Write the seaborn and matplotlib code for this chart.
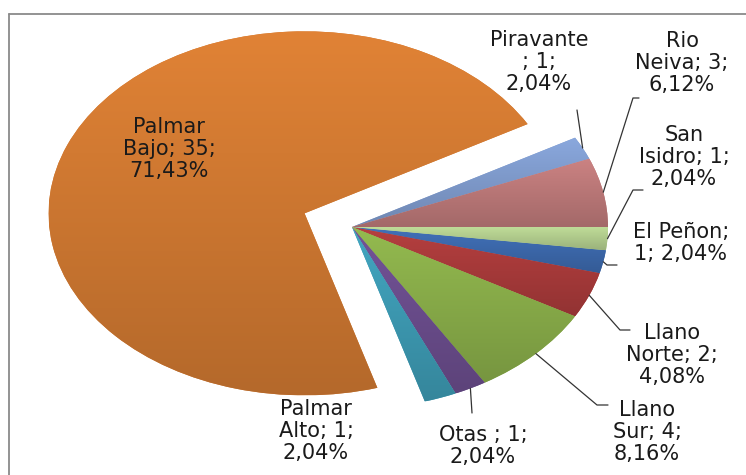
import textwrap
import numpy as np
import matplotlib
matplotlib.use("Agg")
import matplotlib.pyplot as plt
import matplotlib.colors as mcolors
from matplotlib.lines import Line2D
import seaborn as sns

# ---------------- data ----------------
categories = ["El Peñon", "Llano Norte", "Llano Sur", "Otas ", "Palmar Alto",
              "Palmar Bajo", "Piravante ", "Rio Neiva", "San Isidro"]
values = [1, 2, 4, 1, 1, 35, 1, 3, 1]
colors = ["#3D6AAE", "#AA3B3B", "#8AAE4A", "#6C4E8E", "#3E9CB5",
          "#D27A32", "#819DCF", "#BE7A7A", "#B4CF8F"]

# ---------------- layout ----------------
W, H = 746, 475
CX, CY = 352, 227          # pie centre in pixels
RX, RY = 256, 182          # pie radii in pixels
explode = [0, 0, 0, 0, 0, 0.2, 0, 0, 0]
wrap_width = [9, 9, 9, 9, 9, 9, 9, 9, 10]
label_pos_px = [(681, 243), (672, 355), (647, 432), (483, 446), (316, 431),
                (169, 149), (539, 62), (682, 63), (684, 157)]
# elbow points of leader lines (pixels), None = no leader
leader_px = [
    [(607, 265), (617, 265)],
    [(620, 330), (630, 330)],
    [(597, 405), (608, 405)],
    [(472, 413)],
    None,
    None,
    [(577, 110)],
    [(633, 98), (639, 98)],
    [(633, 190), (643, 190)],
]

sns.set_theme(style="white")
plt.rcParams["font.family"] = ["DejaVu Sans"]

fig = plt.figure(figsize=(W / 100, H / 100), dpi=100)
ax = fig.add_axes([0, 0, 1, 1])


def px(x, y):
    return (x - CX) / RX, (CY - y) / RY


wedges, _ = ax.pie(values, colors=colors, explode=explode, startangle=-7.35,
                   counterclock=False, wedgeprops=dict(linewidth=0))

# vertical gradient shading inside each wedge (light top, darker bottom)
for w, c in zip(wedges, colors):
    base = np.array(mcolors.to_rgb(c))
    bb = w.get_path().get_extents(w.get_transform() - ax.transData)
    t = np.linspace(0, 1, 128)[:, None]
    top = np.clip(base * 1.07, 0, 1)
    bot = base * 0.86
    grad = top[None, :] * (1 - t) + bot[None, :] * t
    img = ax.imshow(grad[:, None, :], extent=[bb.x0, bb.x1, bb.y0, bb.y1],
                    aspect="auto", origin="upper", zorder=w.get_zorder() + 0.1,
                    interpolation="bilinear")
    img.set_clip_path(w)

ax.set_aspect("auto")
ax.set_xlim(-CX / RX, (W - CX) / RX)
ax.set_ylim(-(H - CY) / RY, CY / RY)
ax.axis("off")

total = sum(values)
for i, (name, v) in enumerate(zip(categories, values)):
    pct = f"{v / total * 100:.2f}%".replace(".", ",")
    text = f"{name}; {v}; {pct}"
    lines = textwrap.wrap(text, width=wrap_width[i])
    lx, ly = px(*label_pos_px[i])
    ax.text(lx, ly, "\n".join(lines), ha="center", va="center",
            fontsize=15, color="#1a1a1a", linespacing=1.12, zorder=10)
    if leader_px[i] is not None:
        w = wedges[i]
        mid = np.deg2rad((w.theta1 + w.theta2) / 2)
        xs = [np.cos(mid) * 1.0]
        ys = [np.sin(mid) * 1.0]
        for p in leader_px[i]:
            x, y = px(*p)
            xs.append(x)
            ys.append(y)
        ax.plot(xs, ys, color="#333333", lw=0.9, zorder=9)

# chart-area frame (left and top edges visible)
fx = 8.5 / W
fy = 1 - 14 / H
fig.add_artist(Line2D([fx, fx], [0, fy], transform=fig.transFigure,
                      color="#8a8a8a", lw=1.3))
fig.add_artist(Line2D([fx, 1], [fy, fy], transform=fig.transFigure,
                      color="#8a8a8a", lw=1.3))

fig.savefig("out.png", dpi=100, facecolor="white")
